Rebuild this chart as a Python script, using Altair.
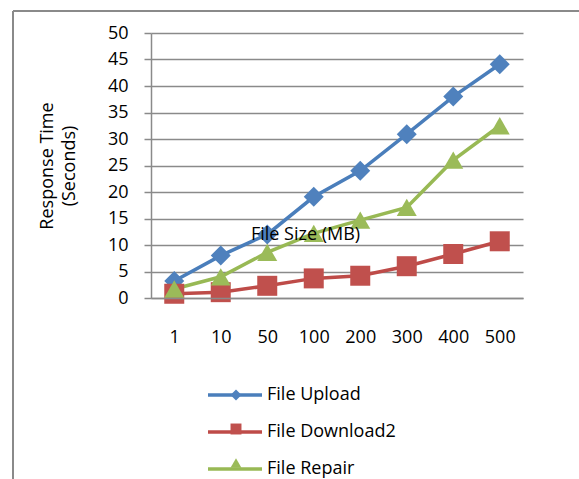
import altair as alt
import pandas as pd

sizes = ["1", "10", "50", "100", "200", "300", "400", "500"]
upload = [3.2, 8.0, 12.0, 19.1, 24.0, 30.9, 38.0, 44.1]
download2 = [0.8, 1.1, 2.3, 3.7, 4.2, 6.0, 8.3, 10.7]
repair = [1.7, 4.0, 8.6, 12.2, 14.7, 17.1, 26.0, 32.5]
series_names = ["File Upload", "File Download2", "File Repair"]
line_colors = ["#4A7EBB", "#BE4B48", "#98B954"]
marker_colors = ["#4F81BD", "#C0504D", "#9BBB59"]
shapes = ["diamond", "square", "triangle-up"]
y_ticks = [0, 5, 10, 15, 20, 25, 30, 35, 40, 45, 50]

rows = []
for name, vals in zip(series_names, [upload, download2, repair]):
    for s, v in zip(sizes, vals):
        rows.append({"size": s, "time": v, "series": name, "marker": name})
df = pd.DataFrame(rows)

FONT = "Open Sans"
GRAY = "#8a8a8a"
FS = 18

x_enc = alt.X(
    "size:O",
    sort=sizes,
    scale=alt.Scale(type="point", padding=0.5),
    axis=alt.Axis(
        title="File Size (MB)",
        titleX=154,
        titleY=-64,
        titleBaseline="middle",
        titleAlign="center",
        titleFontWeight="normal",
        titleFontSize=FS,
        titleFont=FONT,
        titleColor="#000",
        ticks=False,
        labelAngle=0,
        labelPadding=30,
        labelFontSize=FS,
        labelFont=FONT,
        labelColor="#000",
        domainColor=GRAY,
        domainWidth=1.5,
        grid=False,
        zindex=1,
    ),
)
y_enc = alt.Y(
    "time:Q",
    scale=alt.Scale(domain=[0, 50], nice=False),
    axis=alt.Axis(
        values=y_ticks,
        title=["Response Time", "(Seconds)"],
        titleAngle=270,
        titleX=-104,
        titleY=132.5,
        titleBaseline="middle",
        titleAlign="center",
        titleLineHeight=22,
        titleFontWeight="normal",
        titleFontSize=FS,
        titleFont=FONT,
        titleColor="#000",
        tickSize=7,
        tickColor=GRAY,
        tickWidth=1.5,
        labelPadding=16,
        labelFontSize=FS,
        labelFont=FONT,
        labelColor="#000",
        domainColor=GRAY,
        domainWidth=1.5,
        grid=True,
        gridColor=GRAY,
        gridWidth=1.5,
    ),
)

base = alt.Chart(df)

lines = base.mark_line(strokeWidth=3.5).encode(
    x=x_enc,
    y=y_enc,
    stroke=alt.Stroke(
        "series:N",
        sort=series_names,
        scale=alt.Scale(range=line_colors),
        legend=alt.Legend(
            orient="none",
            legendX=72,
            legendY=350,
            title=None,
            symbolType="M-2.7,0L2.7,0",
            symbolSize=400,
            symbolStrokeWidth=3.5,
            labelFontSize=FS,
            labelFont=FONT,
            labelColor="#000",
            labelOffset=20,
            rowPadding=16,
            padding=0,
        ),
    ),
)

pt_legend = alt.Legend(
    orient="none",
    legendX=76,
    legendY=353,
    title=None,
    symbolSize=120,
    symbolStrokeWidth=0,
    symbolOpacity=1,
    labelExpr="''",
    labelFontSize=FS,
    labelFont=FONT,
    rowPadding=16,
    padding=0,
)

points = base.mark_point(filled=True, size=400, opacity=1).encode(
    x=x_enc,
    y=y_enc,
    color=alt.Color("marker:N", scale=alt.Scale(domain=series_names, range=marker_colors), legend=pt_legend),
    shape=alt.Shape("marker:N", scale=alt.Scale(domain=series_names, range=shapes), legend=pt_legend),
)

one = alt.Chart(pd.DataFrame({"a": [0]}))
top_border = one.mark_rule(color=GRAY, strokeWidth=2).encode(
    x=alt.value(-138), x2=alt.value(428), y=alt.value(-22)
)
left_border = one.mark_rule(color=GRAY, strokeWidth=2).encode(
    x=alt.value(-138), y=alt.value(-22), y2=alt.value(446)
)

chart = (
    alt.layer(top_border, left_border, lines, points)
    .properties(
        width=372,
        height=265,
        autosize=alt.AutoSizeParams(type="none"),
        padding={"left": 151, "top": 33, "right": 56, "bottom": 181},
        background="white",
    )
    .configure_view(stroke=None)
)

chart.save("out.html", embed_options={"renderer": "svg", "actions": False})
